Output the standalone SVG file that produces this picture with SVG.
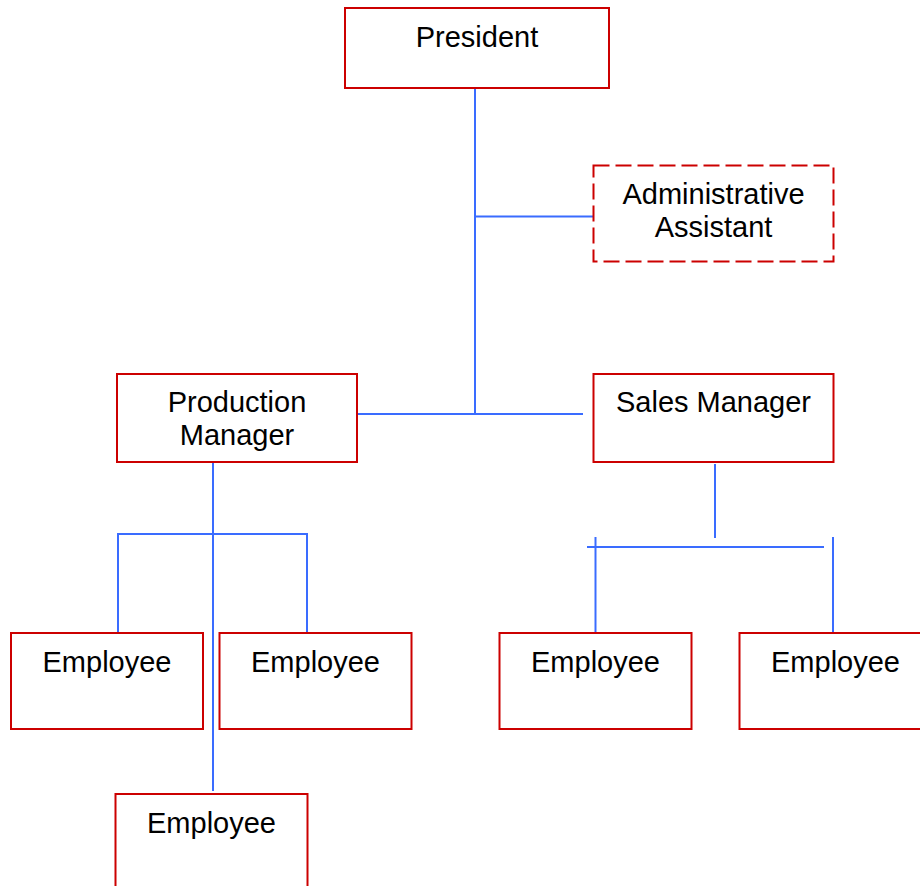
<svg xmlns="http://www.w3.org/2000/svg" width="920" height="886" viewBox="0 0 920 886">
<style>
.box{fill:#ffffff;stroke:#cc0000;stroke-width:2}
.dash{stroke-dasharray:16 6}
.lbl{font-family:"Liberation Sans",Arial,sans-serif;font-size:29px;fill:#000000;text-anchor:middle}
.ln{stroke:#3a6cff;stroke-width:2;fill:none}
</style>
<rect width="920" height="886" fill="#ffffff"/>
<g id="connectors">
<line class="ln" x1="475" y1="88" x2="475" y2="414"/>
<line class="ln" x1="475" y1="216.5" x2="593" y2="216.5"/>
<line class="ln" x1="358" y1="414" x2="583" y2="414"/>
<line class="ln" x1="213" y1="462" x2="213" y2="791"/>
<line class="ln" x1="118" y1="534" x2="307" y2="534"/>
<line class="ln" x1="118" y1="533" x2="118" y2="633"/>
<line class="ln" x1="307" y1="533" x2="307" y2="633"/>
<line class="ln" x1="715" y1="464" x2="715" y2="538"/>
<line class="ln" x1="587" y1="547" x2="824" y2="547"/>
<line class="ln" x1="595.5" y1="537" x2="595.5" y2="633"/>
<line class="ln" x1="833" y1="537" x2="833" y2="633"/>
</g>
<g id="president">
<rect class="box" x="345" y="8" width="264" height="80"/>
<text class="lbl" x="477" y="46.5">President</text>
</g>
<g id="admin-assistant">
<rect class="box dash" x="593.5" y="165.5" width="240" height="96"/>
<text class="lbl" x="713.5" y="203.5">Administrative</text>
<text class="lbl" x="713.5" y="236.5">Assistant</text>
</g>
<g id="production-manager">
<rect class="box" x="117" y="374" width="240" height="88"/>
<text class="lbl" x="237" y="412">Production</text>
<text class="lbl" x="237" y="445">Manager</text>
</g>
<g id="sales-manager">
<rect class="box" x="593.5" y="374" width="240" height="88"/>
<text class="lbl" x="713.5" y="412">Sales Manager</text>
</g>
<g id="employee-1">
<rect class="box" x="11" y="633" width="192" height="96"/>
<text class="lbl" x="107" y="671.5">Employee</text>
</g>
<g id="employee-2">
<rect class="box" x="219.5" y="633" width="192" height="96"/>
<text class="lbl" x="315.5" y="671.5">Employee</text>
</g>
<g id="employee-3">
<rect class="box" x="115.5" y="794" width="192" height="96"/>
<text class="lbl" x="211.5" y="832.5">Employee</text>
</g>
<g id="employee-4">
<rect class="box" x="499.5" y="633" width="192" height="96"/>
<text class="lbl" x="595.5" y="671.5">Employee</text>
</g>
<g id="employee-5">
<rect class="box" x="739.5" y="633" width="192" height="96"/>
<text class="lbl" x="835.5" y="671.5">Employee</text>
</g>
</svg>
